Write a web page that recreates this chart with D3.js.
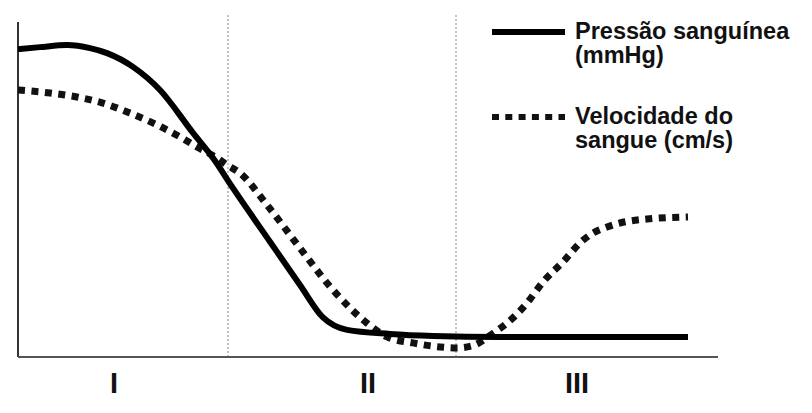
<!DOCTYPE html>
<html>
<head>
<meta charset="utf-8">
<script src="https://cdn.jsdelivr.net/npm/d3@7"></script>
<style>
  body { margin: 0; background: #fff; }
  text { font-family: "Liberation Sans", Arial, sans-serif; font-weight: bold; fill: #111; }
</style>
</head>
<body>
<script>
// position along the vessels (arbitrary units)
var pressureX = [0, 2.2, 4.9, 7.2, 8.9, 11.5, 14.2, 17.5, 19.5, 21.5, 25.2, 28.2, 30.5, 32.9, 37.2, 41.5, 48.2, 67];
var pressureY = [91.9, 92.5, 93.1, 92.2, 90.7, 86.6, 79.7, 66.9, 59.4, 50.4, 34.4, 21.5, 11.8, 8.1, 6.9, 6.3, 6.0, 6.0];

var velocityX = [0, 3.2, 5.9, 8.5, 11.2, 13.9, 16.2, 17.9, 19.9, 20.9, 22.2, 24.9, 28.2, 31.5, 34.9, 36.9, 39.5, 42.2, 43.9, 45.4, 47.7, 48.9, 50.9, 52.5, 54.5, 56.4, 57.5, 58.9, 60.2, 62.9, 67];
var velocityY = [79.7, 78.8, 77.6, 75.8, 72.8, 69.3, 65.7, 62.7, 59.4, 57.3, 54.9, 45.4, 32.5, 20.0, 10.1, 6.0, 4.2, 3.0, 2.7, 3.3, 7.5, 10.1, 16.1, 22.4, 28.4, 34.6, 37.0, 38.8, 40.0, 41.2, 41.8];

var zoneBounds = [21, 43.8];
var zoneLabels = ["I", "II", "III"];
var zoneLabelX = [9.6, 35, 55.9];

var legendLabels = [["Pressão sanguínea", "(mmHg)"], ["Velocidade do", "sangue (cm/s)"]];

var width = 812, height = 413;

var svg = d3.select("body").append("svg")
    .attr("width", width)
    .attr("height", height);

var x = d3.scaleLinear().domain([0, 70]).range([18, 718]);
var y = d3.scaleLinear().domain([0, 100]).range([357, 22]);

// zone separators
svg.selectAll(".zone")
    .data(zoneBounds)
    .enter().append("line")
    .attr("x1", d => x(d)).attr("x2", d => x(d))
    .attr("y1", 15).attr("y2", y(0))
    .attr("stroke", "#888")
    .attr("stroke-width", 1)
    .attr("stroke-dasharray", "2,2");

// axes
svg.append("line")
    .attr("x1", x(0)).attr("x2", x(0))
    .attr("y1", y(100)).attr("y2", y(0))
    .attr("stroke", "#333").attr("stroke-width", 2);
svg.append("line")
    .attr("x1", x(0)).attr("x2", x(70))
    .attr("y1", y(0)).attr("y2", y(0))
    .attr("stroke", "#555").attr("stroke-width", 2);

function makeLine(xs, ys){
    return d3.line()
        .x((d, i) => x(xs[i]))
        .y((d, i) => y(ys[i]))
        .curve(d3.curveMonotoneX)(xs);
}

svg.append("path")
    .attr("d", makeLine(velocityX, velocityY))
    .attr("fill", "none")
    .attr("stroke", "#111")
    .attr("stroke-width", 7)
    .attr("stroke-dasharray", "7,6.5");

svg.append("path")
    .attr("d", makeLine(pressureX, pressureY))
    .attr("fill", "none")
    .attr("stroke", "#000")
    .attr("stroke-width", 6);

// zone labels
svg.selectAll(".zlabel")
    .data(zoneLabels)
    .enter().append("text")
    .attr("x", (d, i) => x(zoneLabelX[i]))
    .attr("y", 393)
    .attr("text-anchor", "middle")
    .attr("font-size", 29)
    .text(d => d);

// legend
var legend = svg.append("g");
legend.append("line")
    .attr("x1", 492).attr("x2", 565)
    .attr("y1", 32).attr("y2", 32)
    .attr("stroke", "#000").attr("stroke-width", 6);
legend.append("line")
    .attr("x1", 492).attr("x2", 565)
    .attr("y1", 117).attr("y2", 117)
    .attr("stroke", "#111").attr("stroke-width", 6)
    .attr("stroke-dasharray", "7,6.3");

var legendY = [39, 124];
legendLabels.forEach(function(lines, i){
    lines.forEach(function(t, j){
        legend.append("text")
            .attr("x", 575)
            .attr("y", legendY[i] + j * 23.5)
            .attr("font-size", 23.5)
            .text(t);
    });
});
</script>
</body>
</html>
